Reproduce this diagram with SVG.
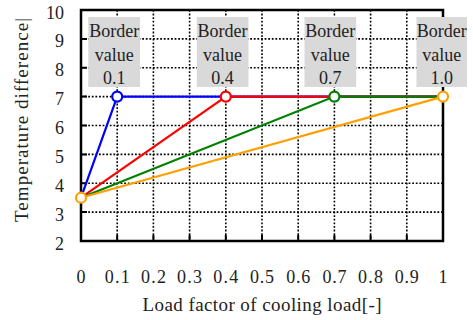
<svg xmlns="http://www.w3.org/2000/svg" width="473" height="320" viewBox="0 0 473 320">
<style>
text{font-family:"Liberation Serif","Times New Roman",serif;fill:#222}
.tk{font-size:18px}
.yl{text-anchor:end}
.xl{text-anchor:middle}
.grid{stroke:#000;stroke-width:1.6;stroke-dasharray:1.8 1.8;fill:none}
.tick{stroke:#000;stroke-width:2;fill:none}
.frame{stroke:#000;stroke-width:2.5;fill:none}
.box{fill:#d9d9d9}
.bt{font-size:18px;text-anchor:middle}
.ln{fill:none;stroke-width:2.2}
.mk{fill:#fff;stroke-width:2.2}
</style>
<rect width="473" height="320" fill="#fff"/>
<g id="grid">
<path class="grid" d="M117.2 10V241M153.4 10V241M189.6 10V241M225.8 10V241M262 10V241M298.2 10V241M334.4 10V241M370.6 10V241M406.8 10V241"/>
<path class="grid" d="M81 212.1H443M81 183.25H443M81 154.4H443M81 125.5H443M81 96.6H443M81 67.75H443M81 38.9H443"/>
<path class="tick" d="M81 212.1h6M81 183.25h6M81 154.4h6M81 125.5h6M81 96.6h6M81 67.75h6M81 38.9h6"/>
<path class="tick" d="M117.2 241v-6M153.4 241v-6M189.6 241v-6M225.8 241v-6M262 241v-6M298.2 241v-6M334.4 241v-6M370.6 241v-6M406.8 241v-6"/>
<rect class="frame" x="81" y="10" width="362" height="231"/>
</g>
<g id="y-labels" class="tk yl">
<text x="64" y="18.5">10</text>
<text x="64" y="47.4">9</text>
<text x="64" y="76.3">8</text>
<text x="64" y="105.1">7</text>
<text x="64" y="134">6</text>
<text x="64" y="162.9">5</text>
<text x="64" y="191.8">4</text>
<text x="64" y="220.6">3</text>
<text x="64" y="249.5">2</text>
</g>
<g id="x-labels" class="tk xl">
<text x="81" y="283">0</text>
<text x="117.2" y="283" textLength="25">0.1</text>
<text x="153.4" y="283" textLength="25">0.2</text>
<text x="189.6" y="283" textLength="25">0.3</text>
<text x="225.8" y="283" textLength="25">0.4</text>
<text x="262" y="283" textLength="24">0.5</text>
<text x="298.2" y="283" textLength="24">0.6</text>
<text x="334.4" y="283" textLength="24">0.7</text>
<text x="370.6" y="283" textLength="25">0.8</text>
<text x="406.8" y="283" textLength="24">0.9</text>
<text x="443" y="283">1</text>
</g>
<g id="axis-titles">
<text x="262" y="311" font-size="19" text-anchor="middle" textLength="239">Load factor of cooling load[-]</text>
<text transform="translate(28 120) rotate(-90)" font-size="19" text-anchor="middle" textLength="204">Temperature difference|</text>
</g>
<g id="connectors">
<polyline class="ln" stroke="#0000ff" points="81,197.7 117.2,96.6 443,96.6"/>
<polyline class="ln" stroke="#ff0000" points="81,197.7 225.8,96.6 443,96.6"/>
<polyline class="ln" stroke="#008000" points="81,197.7 334.4,96.6 443,96.6"/>
<polyline class="ln" stroke="#ffa000" points="81,197.7 443,96.6"/>
</g>
<g id="markers">
<circle class="mk" stroke="#0000ff" cx="117.2" cy="96.6" r="5"/>
<circle class="mk" stroke="#ff0000" cx="225.8" cy="96.6" r="5"/>
<circle class="mk" stroke="#008000" cx="334.4" cy="96.6" r="5"/>
<circle class="mk" stroke="#ffa000" cx="443" cy="96.6" r="5"/>
<circle class="mk" stroke="#ffa000" cx="81" cy="197.7" r="5"/>
</g>
<g id="label-01">
<rect class="box" x="88.3" y="17" width="51.7" height="70"/>
<text class="bt" x="114.2" y="37">Border</text>
<text class="bt" x="114.2" y="60.5">value</text>
<text class="bt" x="114.2" y="84">0.1</text>
</g>
<g id="label-04">
<rect class="box" x="196.8" y="17" width="51.7" height="70"/>
<text class="bt" x="222.6" y="37">Border</text>
<text class="bt" x="222.6" y="60.5">value</text>
<text class="bt" x="222.6" y="84">0.4</text>
</g>
<g id="label-07">
<rect class="box" x="304.5" y="17" width="51.7" height="70"/>
<text class="bt" x="330.3" y="37">Border</text>
<text class="bt" x="330.3" y="60.5">value</text>
<text class="bt" x="330.3" y="84">0.7</text>
</g>
<g id="label-10">
<rect class="box" x="416.5" y="17" width="50.5" height="70"/>
<text class="bt" x="441.7" y="37">Border</text>
<text class="bt" x="441.7" y="60.5">value</text>
<text class="bt" x="441.7" y="84">1.0</text>
</g>
</svg>
